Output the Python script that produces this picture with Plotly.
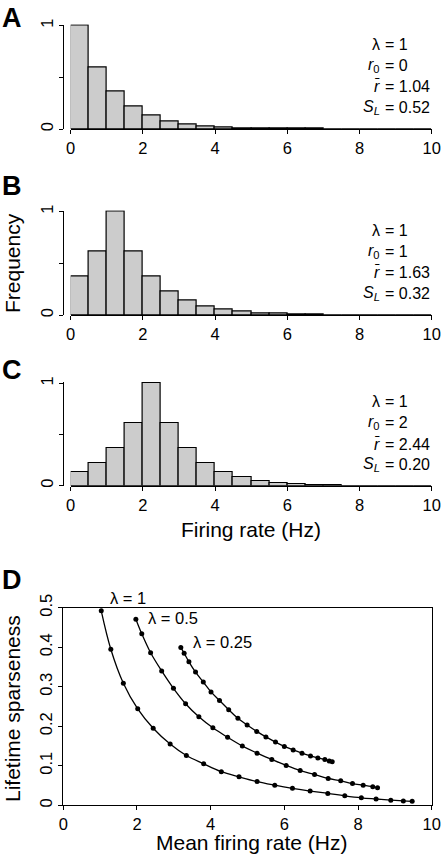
import plotly.graph_objects as go

# ---------------- data ----------------
bin_centers = [0.25 + 0.5 * i for i in range(20)]
hist_A = [1.0, 0.60, 0.365, 0.222, 0.133, 0.077, 0.046, 0.027, 0.016, 0.0095,
          0.0055, 0.0033, 0.002, 0.0012, 0.0, 0.0, 0.0, 0.0, 0.0, 0.0]
hist_B = [0.37, 0.61, 1.0, 0.61, 0.37, 0.225, 0.136, 0.084, 0.052, 0.031,
          0.019, 0.011, 0.007, 0.004, 0.0, 0.0, 0.0, 0.0, 0.0, 0.0]
hist_C = [0.135, 0.22, 0.37, 0.61, 1.0, 0.61, 0.37, 0.22, 0.135, 0.085,
          0.047, 0.025, 0.015, 0.008, 0.005, 0.0, 0.0, 0.0, 0.0, 0.0]

stats_labels = ["λ", "<i>r</i><sub>0</sub>", "<i>r̄</i>", "<i>S</i><sub><i>L</i></sub>"]
stats_A = ["1", "0", "1.04", "0.52"]
stats_B = ["1", "1", "1.63", "0.32"]
stats_C = ["1", "2", "2.44", "0.20"]

lam1_x = [1.03, 1.29, 1.63, 2.02, 2.44, 2.90, 3.34, 3.81, 4.29, 4.77, 5.26,
          5.74, 6.22, 6.70, 7.18, 7.64, 8.09, 8.49, 8.89, 9.23, 9.47]
lam1_y = [0.492, 0.395, 0.309, 0.244, 0.195, 0.155, 0.126, 0.105, 0.085, 0.072, 0.060,
          0.051, 0.043, 0.036, 0.030, 0.024, 0.019, 0.016, 0.013, 0.011, 0.010]
lam05_x = [1.97, 2.13, 2.37, 2.67, 2.99, 3.32, 3.68, 4.06, 4.46, 4.86, 5.26,
           5.66, 6.05, 6.43, 6.82, 7.19, 7.53, 7.85, 8.14, 8.40, 8.53]
lam05_y = [0.471, 0.434, 0.386, 0.340, 0.296, 0.257, 0.224, 0.196, 0.172, 0.150, 0.132,
           0.116, 0.101, 0.088, 0.078, 0.068, 0.062, 0.055, 0.051, 0.047, 0.0446]
lam025_x = [3.19, 3.28, 3.41, 3.59, 3.80, 4.01, 4.24, 4.49, 4.74, 4.99, 5.25,
            5.50, 5.76, 6.00, 6.24, 6.48, 6.71, 6.91, 7.10, 7.22, 7.30]
lam025_y = [0.399, 0.385, 0.363, 0.337, 0.312, 0.287, 0.265, 0.242, 0.220, 0.203, 0.187,
            0.173, 0.160, 0.149, 0.140, 0.132, 0.125, 0.120, 0.116, 0.112, 0.110]

hist_xticks = [0, 2, 4, 6, 8, 10]
hist_yticks = [0, 1]
hist_yminor = [0.5]
d_yticks = [0, 0.1, 0.2, 0.3, 0.4, 0.5]
d_yticktext = ["0", "0.1", "0.2", "0.3", "0.4", "0.5"]

# ---------------- layout helpers ----------------
W, H = 442, 854
FONT = "Liberation Sans, Arial, Helvetica, sans-serif"


def px(x):
    return x / W


def py(y):
    return 1 - y / H


fig = go.Figure()

panels = [("A", hist_A, stats_A, 25.7, 129.0, 18.5),
          ("B", hist_B, stats_B, 211.7, 315.0, 186.5),
          ("C", hist_C, stats_C, 383.3, 485.7, 370.0)]

x_left_bar = 70.7
x_right = 431.7
y_axis_x = 63.3

axis_common = dict(showgrid=False, zeroline=False, showline=True, linecolor="black",
                   linewidth=1.2, ticks="outside", ticklen=4, tickwidth=1.2,
                   tickcolor="black", automargin=False,
                   tickfont=dict(family=FONT, size=16.5, color="black"))

for i, (name, hist, stats, ytop, ybot, letter_y) in enumerate(panels):
    k = i + 1
    xa = "x" if k == 1 else f"x{k}"
    ya = "y" if k == 1 else f"y{k}"
    fig.add_trace(go.Bar(x=bin_centers, y=hist, width=0.5, xaxis=xa, yaxis=ya,
                         marker=dict(color="#cccccc", line=dict(color="black", width=1.2)),
                         showlegend=False, hoverinfo="skip"))
    xkey = "xaxis" if k == 1 else f"xaxis{k}"
    ykey = "yaxis" if k == 1 else f"yaxis{k}"
    # slightly padded range so the outline of the tallest bar is not clipped
    fig.update_layout(**{
        xkey: dict(domain=[px(x_left_bar), px(x_right)], anchor=ya, range=[0, 10],
                   tickvals=hist_xticks, **axis_common),
        ykey: dict(domain=[py(ybot), py(ytop - 1.2)], anchor="free", position=px(y_axis_x),
                   range=[0, 1.0117], tickvals=hist_yticks, tickangle=-90,
                   minor=dict(tickvals=hist_yminor, ticks="outside", ticklen=4,
                              tickwidth=1.2, tickcolor="black", showgrid=False),
                   **axis_common),
    })
    fig.add_annotation(x=px(0), y=py(letter_y), xref="paper", yref="paper",
                       text=f"<b>{name}</b>", showarrow=False, xanchor="left",
                       yanchor="middle", font=dict(family=FONT, size=27, color="black"))
    offs = [18.5, 39.5, 61.0, 81.5]
    for lab, val, o in zip(stats_labels, stats, offs):
        fig.add_annotation(x=px(382), y=py(ytop + o), xref="paper", yref="paper",
                           text=lab, showarrow=False, xanchor="right", yanchor="middle",
                           font=dict(family=FONT, size=16, color="black"))
        fig.add_annotation(x=px(383), y=py(ytop + o), xref="paper", yref="paper",
                           text="= " + val, showarrow=False, xanchor="left", yanchor="middle",
                           font=dict(family=FONT, size=16, color="black"))

# ---------------- panel D ----------------
for xs, ys in [(lam1_x, lam1_y), (lam05_x, lam05_y), (lam025_x, lam025_y)]:
    fig.add_trace(go.Scatter(x=xs, y=ys, mode="lines+markers", xaxis="x4", yaxis="y4",
                             line=dict(color="black", width=1.3, shape="spline"),
                             marker=dict(color="black", size=5),
                             showlegend=False, hoverinfo="skip"))

fig.update_layout(
    xaxis4=dict(domain=[px(63.3), px(431.7)], anchor="y4", range=[0, 10],
                tickvals=hist_xticks, mirror=True, **axis_common),
    yaxis4=dict(domain=[py(805.3), py(607.7)], anchor="x4", range=[0, 0.5],
                tickvals=d_yticks, ticktext=d_yticktext,
                tickangle=-90, mirror=True, **axis_common),
)

fig.add_annotation(x=px(0), y=py(579.5), xref="paper", yref="paper", text="<b>D</b>",
                   showarrow=False, xanchor="left", yanchor="middle",
                   font=dict(family=FONT, size=27, color="black"))

for txt, x0, yc in [("λ = 1", 108, 598), ("λ = 0.5", 145.5, 617.5), ("λ = 0.25", 190.5, 642.3)]:
    fig.add_annotation(x=px(x0), y=py(yc), xref="paper", yref="paper", text=txt,
                       showarrow=False, xanchor="left", yanchor="middle",
                       font=dict(family=FONT, size=16.5, color="black"))

title_font = dict(family=FONT, size=21, color="black")
fig.add_annotation(x=px(251), y=py(529), xref="paper", yref="paper", text="Firing rate (Hz)",
                   showarrow=False, xanchor="center", yanchor="middle", font=title_font)
fig.add_annotation(x=px(251), y=py(842), xref="paper", yref="paper", text="Mean firing rate (Hz)",
                   showarrow=False, xanchor="center", yanchor="middle", font=title_font)
fig.add_annotation(x=px(12), y=py(263), xref="paper", yref="paper", text="Frequency",
                   showarrow=False, textangle=-90, xanchor="center", yanchor="middle",
                   font=title_font)
fig.add_annotation(x=px(12), y=py(709), xref="paper", yref="paper", text="Lifetime sparseness",
                   showarrow=False, textangle=-90, xanchor="center", yanchor="middle",
                   font=title_font)

fig.update_layout(width=W, height=H, margin=dict(l=0, r=0, t=0, b=0, pad=0),
                  paper_bgcolor="white", plot_bgcolor="white", bargap=0,
                  font=dict(family=FONT, color="black"))

fig.write_html("out.html", config={"displayModeBar": False},
               post_script="document.body.style.margin='0';document.body.style.overflow='hidden';")
